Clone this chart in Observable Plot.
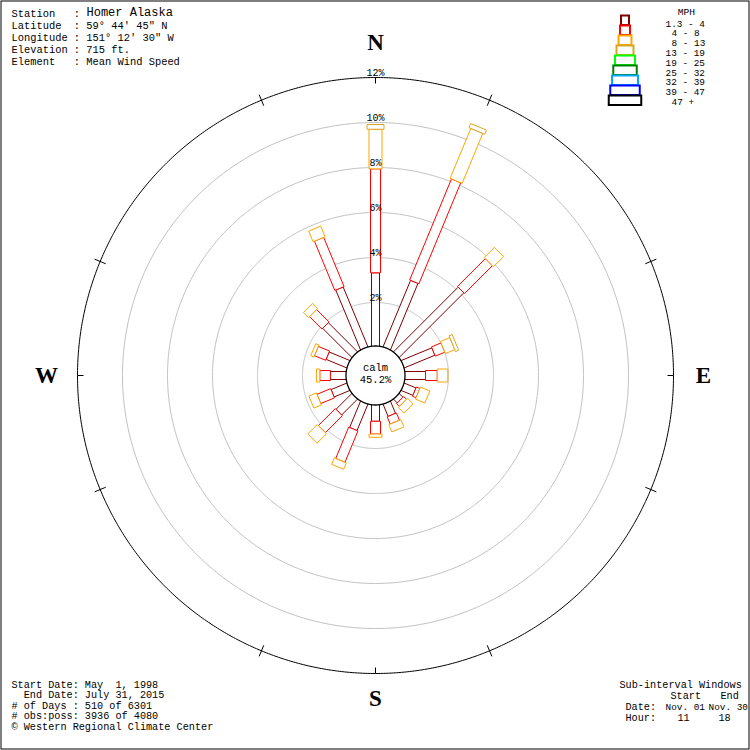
<!DOCTYPE html>
<html><head><meta charset="utf-8">
<script src="https://cdn.jsdelivr.net/npm/d3@7"></script>
<script src="https://cdn.jsdelivr.net/npm/@observablehq/plot@0.6"></script>
<style>
html,body{margin:0;padding:0;background:#fff;}
svg text{white-space:pre;}
</style></head><body><div id="chart"></div>
<script>
// ---------------- DATA ----------------
const directions = ["N","NNE","NE","ENE","E","ESE","SE","SSE","S","SSW","SW","WSW","W","WNW","NW","NNW"];
const speedClasses = ["1.3 - 4","4 - 8","8 - 13","13 - 19","19 - 25","25 - 32","32 - 39","39 - 47","47 +"];
const calmPct = 45.2;
const ringPcts = [2,4,6,8,10,12];
// percent of observations per direction for each speed class (mph)
const pct1to4   = [3.32,3.26,4.13,1.54,0.98,0.63,0.30,0.65,0.79,1.33,1.06,0.82,0.76,1.06,1.90,2.94];
const pct4to8   = [4.62,4.86,1.75,0.46,0.52,0.17,0.18,0.35,0.57,1.51,1.07,0.66,0.47,0.54,0.78,2.37];
const pct8to13  = [1.76,2.40,0.64,0.45,0.47,0.45,0.35,0.35,0.14,0.31,0.59,0.36,0.15,0.15,0.32,0.51];
const pct13to19 = [0.21,0.20,0,0.15,0,0,0,0,0,0,0,0,0,0,0,0];
const pct19to25 = [0,0,0,0,0,0,0,0,0,0,0,0,0,0,0,0];
const pct25to32 = [0,0,0,0,0,0,0,0,0,0,0,0,0,0,0,0];
const pct32to39 = [0,0,0,0,0,0,0,0,0,0,0,0,0,0,0,0];
const pct39to47 = [0,0,0,0,0,0,0,0,0,0,0,0,0,0,0,0];
const pct47up   = [0,0,0,0,0,0,0,0,0,0,0,0,0,0,0,0];
const classPcts = [pct1to4,pct4to8,pct8to13,pct13to19,pct19to25,pct25to32,pct32to39,pct39to47,pct47up];

const infoLabels = ["Station","Latitude","Longitude","Elevation","Element"];
const infoValues = ["Homer Alaska","59° 44' 45\" N","151° 12' 30\" W","715 ft.","Mean Wind Speed"];
const footerLines = ["Start Date: May  1, 1998","  End Date: July 31, 2015","# of Days : 510 of 6301","# obs:poss: 3936 of 4080","© Western Regional Climate Center"];
const windowTitle = "Sub-interval Windows";
const windowHeads = ["Start","End"];
const windowDates = ["Nov. 01","Nov. 30"];
const windowHours = ["11","18"];
const compass = ["N","E","S","W"];

// ---------------- STYLE / LAYOUT ----------------
const classColors = ["#800000","#ff0000","#ffa500","#daa520","#00ff00","#008000","#00a8ff","#0000ff","#000000"];
const classWidths = [8,10,13,17,20,23.5,26,29.5,32.5]; // px
const W = 750, H = 750, K = 22.5;  // px per percent
const R0 = 28 / K;                 // radius of 0 %
const CALM_R = 29.5 / K;
const HALF = W / 2 / K;
const X = px => (px - W / 2) / K;
const Y = py => (H / 2 - py) / K;
const mono = "Liberation Mono, DejaVu Sans Mono, monospace";
const nb = s => s.replace(/ /g, "\u00A0");
const rad = d => d * Math.PI / 180;

// bar outlines
const segPts = [];
directions.forEach((dir, i) => {
  const a = rad(i * 22.5);
  const ux = Math.sin(a), uy = Math.cos(a), tx = Math.cos(a), ty = -Math.sin(a);
  let cum = 0;
  classPcts.forEach((arr, c) => {
    const v = arr[i];
    if (!v) return;
    const r1 = R0 + cum, r2 = R0 + cum + v;
    cum += v;
    const hw = classWidths[c] / 2 / K;
    const id = dir + "-" + c;
    [[r1,-hw],[r2,-hw],[r2,hw],[r1,hw]].forEach(([r,t]) =>
      segPts.push({id, color: classColors[c], x: r*ux + t*tx, y: r*uy + t*ty}));
  });
});

// rings
const ringPts = [];
ringPcts.forEach(p => { for (let k = 0; k < 720; k++) { const a = rad(k/2); ringPts.push({ring: p, x: (R0+p)*Math.sin(a), y: (R0+p)*Math.cos(a)}); } });
const calmPts = [];
for (let k = 0; k < 720; k++) { const a = rad(k/2); calmPts.push({x: CALM_R*Math.sin(a), y: CALM_R*Math.cos(a)}); }

const outerR = R0 + 12;
const ticks = [];
for (let k = 0; k < 16; k++) {
  if (k % 4 === 0) ticks.push({a: k*22.5, r1: outerR - 6/K, r2: outerR});
  else if (k % 2 === 1) ticks.push({a: k*22.5, r1: outerR - 6/K, r2: outerR + 6/K});
}

const compassPos = {N: [375, 42], E: [703, 375], S: [375, 698], W: [46, 375]};
const legendIndent = [0,1,1,0,0,0,0,0,1];

const chart = Plot.plot({
  width: W, height: H,
  margin: 0,
  x: {domain: [-HALF, HALF], range: [0, W], axis: null},
  y: {domain: [-HALF, HALF], range: [H, 0], axis: null},
  color: {type: "identity"},
  style: {background: "white", overflow: "visible"},
  marks: [
    Plot.line(ringPts.filter(d => d.ring < 12), {x: "x", y: "y", z: "ring", stroke: "#c0c0c0", strokeWidth: 1, curve: "linear-closed"}),
    Plot.line(ringPts.filter(d => d.ring === 12), {x: "x", y: "y", z: "ring", stroke: "black", strokeWidth: 1, curve: "linear-closed"}),
    Plot.link(ticks, {x1: d => d.r1*Math.sin(rad(d.a)), y1: d => d.r1*Math.cos(rad(d.a)), x2: d => d.r2*Math.sin(rad(d.a)), y2: d => d.r2*Math.cos(rad(d.a)), stroke: "black", strokeWidth: 1}),
    Plot.line(segPts, {x: "x", y: "y", z: "id", stroke: "color", fill: "white", strokeWidth: 1, curve: "linear-closed", strokeLinejoin: "miter", strokeLinecap: "butt", strokeMiterlimit: 4}),
    Plot.line(calmPts, {x: "x", y: "y", stroke: "black", fill: "white", strokeWidth: 1.3, curve: "linear-closed"}),
    Plot.text([calmPct], {x: 0, y: 0, text: d => `calm\n${d.toFixed(1)}%`, lineHeight: 1.1, dy: -2, fontFamily: mono, fontSize: 10.5, fill: "black"}),
    Plot.text(ringPcts, {x: 0, y: d => R0 + d, text: d => d + "%", lineAnchor: "bottom", dy: -2, fontFamily: mono, fontSize: 10, fill: "black"}),
    Plot.text(compass, {x: d => X(compassPos[d][0]), y: d => Y(compassPos[d][1]), text: d => d, fontFamily: "Liberation Serif, serif", fontWeight: "bold", fontSize: 23, fill: "black"}),
    // header info
    Plot.text(infoLabels, {x: X(11), y: (d,i) => Y(13 + 12*i), text: (d,i) => nb(d.padEnd(10) + ": " + (i === 0 ? "" : infoValues[i])), textAnchor: "start", fontFamily: mono, fontSize: 10.4, fill: "black"}),
    Plot.text([infoValues[0]], {x: X(86), y: Y(12), text: d => nb(d), textAnchor: "start", fontFamily: mono, fontSize: 12, fill: "black"}),
    // footer
    Plot.text(footerLines, {x: X(11), y: (d,i) => Y(684 + 10.5*i), text: d => nb(d), textAnchor: "start", fontFamily: mono, fontSize: 10.2, fill: "black"}),
    Plot.text([windowTitle], {x: X(619), y: Y(684), text: d => nb(d), textAnchor: "start", fontFamily: mono, fontSize: 10.2, fill: "black"}),
    Plot.text(windowHeads, {x: (d,i) => X(i ? 720 : 670), y: Y(695), text: d => d, textAnchor: "start", fontFamily: mono, fontSize: 10.2, fill: "black"}),
    Plot.text(["Date:","Hour:"], {x: X(625), y: (d,i) => Y(706 + 11*i), text: d => d, textAnchor: "start", fontFamily: mono, fontSize: 10.2, fill: "black"}),
    Plot.text(windowDates, {x: (d,i) => X(i ? 708 : 665), y: Y(706), text: d => nb(d), textAnchor: "start", fontFamily: mono, fontSize: 9.4, fill: "black"}),
    Plot.text(windowHours, {x: (d,i) => X(i ? 718 : 677), y: Y(717), text: d => d, textAnchor: "start", fontFamily: mono, fontSize: 10.2, fill: "black"}),
    // legend
    Plot.rect(speedClasses, {x1: (d,i) => X(625 - classWidths[i]/2), x2: (d,i) => X(625 + classWidths[i]/2), y1: (d,i) => Y(15.5 + 10*i), y2: (d,i) => Y(25 + 10*i), stroke: (d,i) => classColors[i], fill: "white", strokeWidth: 2}),
    Plot.text(["MPH"], {x: X(686), y: Y(11), text: d => d, fontFamily: mono, fontSize: 9.6, fill: "black"}),
    Plot.text(speedClasses, {x: (d,i) => X(665 + legendIndent[i]*6), y: (d,i) => Y(23 + 9.8*i), text: d => nb(d), textAnchor: "start", fontFamily: mono, fontSize: 9.4, fill: "black"}),
    Plot.frame({stroke: "black", strokeWidth: 1, insetLeft: 0.5, insetTop: 0.5, insetRight: 1.5, insetBottom: 1.5})
  ]
});
document.getElementById("chart").appendChild(chart);
</script>
</body></html>
